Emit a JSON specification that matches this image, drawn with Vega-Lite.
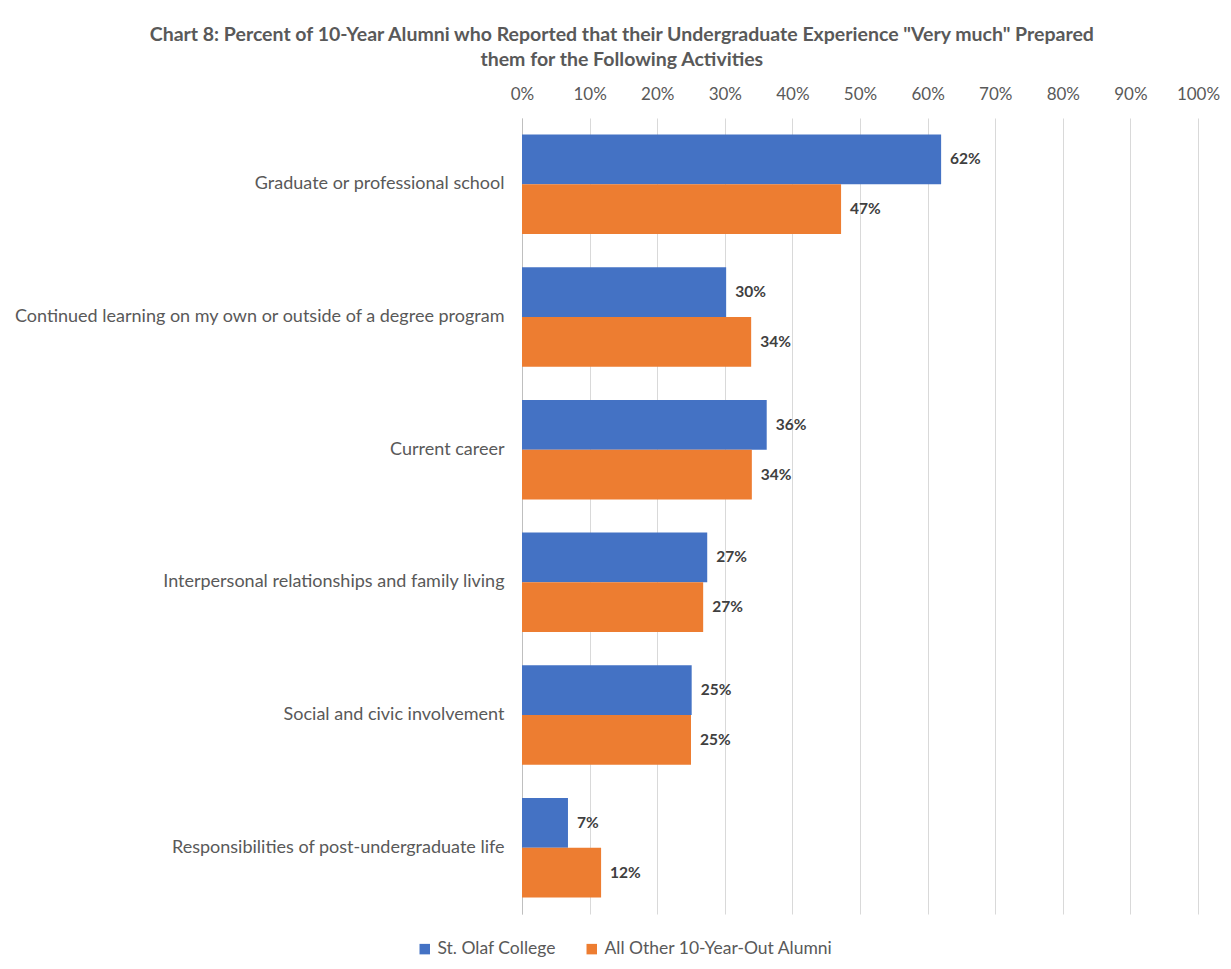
{
  "$schema": "https://vega.github.io/schema/vega-lite/v6.json",
  "width": 676,
  "height": 796,
  "padding": {"left": 12, "top": 24, "right": 20, "bottom": 10},
  "background": "white",
  "title": {
    "text": ["Chart 8: Percent of 10-Year Alumni who Reported that their Undergraduate Experience \"Very much\" Prepared", "them for the Following Activities"],
    "anchor": "middle",
    "frame": "bounds",
    "font": "Lato",
    "fontSize": 19.5,
    "fontWeight": "bold",
    "color": "#595959",
    "lineHeight": 25,
    "offset": 15,
    "dx": 6
  },
  "config": {
    "font": "Lato",
    "view": {"stroke": null}
  },
  "data": {
    "values": [
      {"activity": "Graduate or professional school", "series": "St. Olaf College", "value": 0.62},
      {"activity": "Graduate or professional school", "series": "All Other 10-Year-Out Alumni", "value": 0.472},
      {"activity": "Continued learning on my own or outside of a degree program", "series": "St. Olaf College", "value": 0.302},
      {"activity": "Continued learning on my own or outside of a degree program", "series": "All Other 10-Year-Out Alumni", "value": 0.339},
      {"activity": "Current career", "series": "St. Olaf College", "value": 0.362},
      {"activity": "Current career", "series": "All Other 10-Year-Out Alumni", "value": 0.34},
      {"activity": "Interpersonal relationships and family living", "series": "St. Olaf College", "value": 0.274},
      {"activity": "Interpersonal relationships and family living", "series": "All Other 10-Year-Out Alumni", "value": 0.268},
      {"activity": "Social and civic involvement", "series": "St. Olaf College", "value": 0.251},
      {"activity": "Social and civic involvement", "series": "All Other 10-Year-Out Alumni", "value": 0.25},
      {"activity": "Responsibilities of post-undergraduate life", "series": "St. Olaf College", "value": 0.068},
      {"activity": "Responsibilities of post-undergraduate life", "series": "All Other 10-Year-Out Alumni", "value": 0.117}
    ]
  },
  "encoding": {
    "y": {
      "field": "activity",
      "type": "nominal",
      "sort": null,
      "scale": {"paddingInner": 0.25, "paddingOuter": 0.125},
      "axis": {
        "title": null,
        "ticks": false,
        "domain": true,
        "domainColor": "#bfbfbf",
        "domainWidth": 1,
        "labelFont": "Lato",
        "labelFontSize": 18,
        "labelColor": "#595959",
        "labelPadding": 18,
        "labelLimit": 600,
        "minExtent": 510,
        "maxExtent": 510
      }
    },
    "yOffset": {
      "field": "series",
      "type": "nominal",
      "sort": ["St. Olaf College", "All Other 10-Year-Out Alumni"]
    },
    "x": {
      "field": "value",
      "type": "quantitative",
      "scale": {"domain": [0, 1], "nice": false},
      "axis": {
        "orient": "top",
        "title": null,
        "format": ".0%",
        "values": [0, 0.1, 0.2, 0.3, 0.4, 0.5, 0.6, 0.7, 0.8, 0.9, 1],
        "domain": false,
        "ticks": false,
        "grid": true,
        "gridColor": "#d9d9d9",
        "gridWidth": 1,
        "labelFlush": false,
        "labelOverlap": false,
        "labelFont": "Lato",
        "labelFontSize": 17,
        "labelColor": "#595959",
        "labelPadding": 15
      }
    }
  },
  "layer": [
    {
      "mark": {"type": "bar"},
      "encoding": {
        "color": {
          "field": "series",
          "type": "nominal",
          "sort": ["St. Olaf College", "All Other 10-Year-Out Alumni"],
          "scale": {"domain": ["St. Olaf College", "All Other 10-Year-Out Alumni"], "range": ["#4472C4", "#ED7D31"]},
          "legend": {
            "title": null,
            "orient": "none",
            "direction": "horizontal",
            "legendX": -106,
            "legendY": 822,
            "symbolType": "square",
            "symbolSize": 110,
            "symbolStrokeWidth": 0,
            "symbolOpacity": 1,
            "labelFont": "Lato",
            "labelFontSize": 17.5,
            "labelLimit": 400,
            "labelColor": "#595959",
            "labelOffset": 4,
            "columnPadding": 27
          }
        }
      }
    },
    {
      "mark": {"type": "text", "align": "left", "baseline": "middle", "dx": 9, "font": "Lato", "fontSize": 15.5, "fontWeight": "bold", "color": "#404040"},
      "encoding": {
        "text": {"field": "value", "type": "quantitative", "format": ".0%"}
      }
    }
  ]
}
